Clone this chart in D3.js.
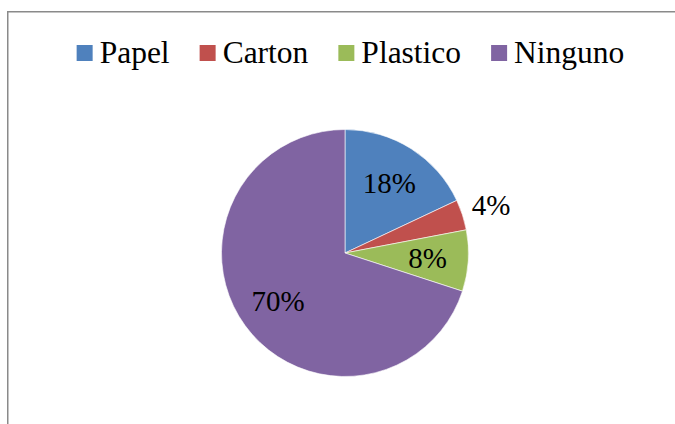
<!DOCTYPE html>
<html>
<head>
<meta charset="utf-8">
<script src="https://cdn.jsdelivr.net/npm/d3@7"></script>
<style>
  html, body { margin: 0; padding: 0; background: #fff; overflow: hidden; }
</style>
</head>
<body>
<svg id="chart" width="675" height="424"></svg>
<script>
// Material used, share of responses (%)
const categories = ["Papel", "Carton", "Plastico", "Ninguno"];
const values = [18, 4, 8, 70];
const colors = ["#4F81BD", "#C0504D", "#9BBB59", "#8064A2"];

const W = 675, H = 424;
const svg = d3.select("#chart");

// chart frame: left and top edges, the rest runs off the page
svg.append("line").attr("x1", 7.75).attr("y1", 11).attr("x2", 7.75).attr("y2", H)
  .attr("stroke", "#8a8a8a").attr("stroke-width", 1.5);
svg.append("line").attr("x1", 7).attr("y1", 11.75).attr("x2", W).attr("y2", 11.75)
  .attr("stroke", "#8a8a8a").attr("stroke-width", 1.5);

// pie
const cx = 345, cy = 253, R = 123.5;
const total = d3.sum(values);
const pie = d3.pie().sort(null).value(d => d)(values);
const arc = d3.arc().innerRadius(0).outerRadius(R);

const g = svg.append("g").attr("transform", `translate(${cx},${cy})`);
g.selectAll("path")
  .data(pie)
  .join("path")
  .attr("d", arc)
  .attr("fill", (d, i) => colors[i])
  .attr("stroke", "#fff")
  .attr("stroke-width", 0.6);

// percentage labels: inside for larger slices, outside for small ones
const labelSize = 29;
pie.forEach(d => {
  const share = d.value / total;
  const mid = (d.startAngle + d.endAngle) / 2;
  const r = share < 0.05 ? R + 30 : R * 0.67;
  g.append("text")
    .attr("x", Math.sin(mid) * r)
    .attr("y", -Math.cos(mid) * r + labelSize * 0.33)
    .attr("text-anchor", "middle")
    .style("font-family", '"Liberation Serif"')
    .style("font-size", labelSize + "px")
    .text(Math.round(share * 100) + "%");
});

// legend across the top
const legSize = 31.5, sw = 16, gapText = 7, gapItem = 30;
const legend = svg.append("g");
const texts = categories.map((c, i) => legend.append("text")
  .attr("y", 63)
  .style("font-family", '"Liberation Serif"')
  .style("font-size", legSize + "px")
  .text(c));
const widths = texts.map(t => t.node().getComputedTextLength());
const totalW = d3.sum(widths) + categories.length * (sw + gapText) + (categories.length - 1) * gapItem;
let x0 = 350.5 - totalW / 2;
categories.forEach((c, i) => {
  legend.append("rect")
    .attr("x", x0).attr("y", 45)
    .attr("width", sw).attr("height", sw)
    .attr("fill", colors[i]);
  texts[i].attr("x", x0 + sw + gapText);
  x0 += sw + gapText + widths[i] + gapItem;
});
</script>
</body>
</html>
